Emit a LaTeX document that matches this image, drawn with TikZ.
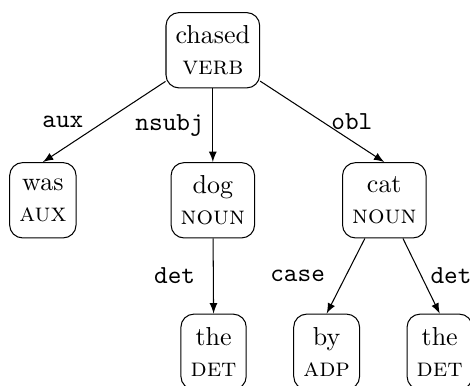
\documentclass[tikz,border=0pt]{standalone}
\usepackage{tikz}
\usetikzlibrary{arrows}
\tikzset{word/.style={draw, rounded corners=5pt, align=center, inner xsep=3.7pt, minimum height=29pt}}
\tikzset{rel/.style={font=\ttfamily, midway}}

\begin{document}
\begin{tikzpicture}
\useasboundingbox (0,0) rectangle (6.36,-5.21);
% words
\node[word] (chased) at (2.88,-0.68) {chased\\\textsc{verb}};
\node[word] (was) at (0.58,-2.71) {was\\\textsc{aux}};
\node[word] (dog) at (2.88,-2.71) {dog\\\textsc{noun}};
\node[word] (cat) at (5.20,-2.71) {cat\\\textsc{noun}};
\node[word] (the1) at (2.89,-4.76) {the\\\textsc{det}};
\node[word] (by) at (4.42,-4.76) {by\\\textsc{adp}};
\node[word] (the2) at (5.95,-4.76) {the\\\textsc{det}};
% relations
\draw[->,>=latex] (chased) -- (was.north) node[rel, left, xshift=-4.5pt] {aux};
\draw[->,>=latex] (chased) -- (dog.north) node[rel, left] {nsubj};
\draw[->,>=latex] (chased) -- (cat.north) node[rel, right] {obl};
\draw[->,>=latex] (dog) -- (the1.north) node[rel, left, xshift=-3.5pt] {det};
\draw[->,>=latex] (cat) -- (by.north) node[rel, left, xshift=-4.5pt] {case};
\draw[->,>=latex] (cat) -- (the2.north) node[rel, right] {det};
\end{tikzpicture}
\end{document}
